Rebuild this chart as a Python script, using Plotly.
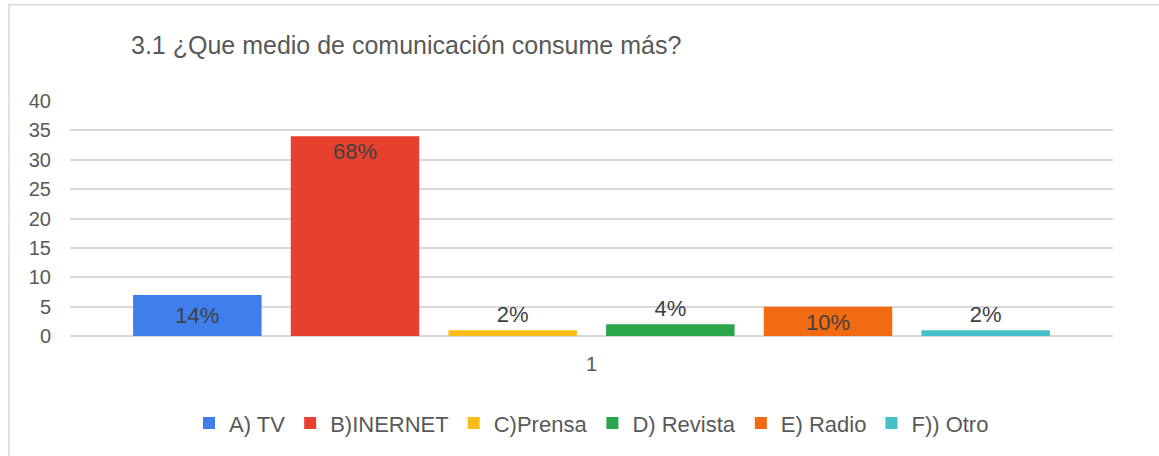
"""Survey chart — 3.1 ¿Que medio de comunicación consume más?"""

import plotly.graph_objects as go

# ── data ─────────────────────────────────────────────────────────────

categories = ["1"]
series_names = ["A) TV", "B)INERNET", "C)Prensa", "D) Revista", "E) Radio", "F)) Otro"]
series_values = [7, 34, 1, 2, 5, 1]
series_labels = ["14%", "68%", "2%", "4%", "10%", "2%"]
y_ticks = [0, 5, 10, 15, 20, 25, 30, 35, 40]

# ── style ────────────────────────────────────────────────────────────

COLORS = ["#3f7fec", "#e8402f", "#fbbd17", "#2ba64c", "#f26a12", "#45bfc9"]
TEXT_POS = ["inside", "inside", "outside", "outside", "inside", "outside"]
ANCHOR = ["middle", "end", "end", "end", "end", "end"]
FONT = "Liberation Sans, Arial, sans-serif"

# ── chart ────────────────────────────────────────────────────────────

fig = go.Figure()
for name, val, lab, col, pos, anc in zip(
    series_names, series_values, series_labels, COLORS, TEXT_POS, ANCHOR
):
    fig.add_trace(
        go.Bar(
            x=categories,
            y=[val],
            name=name,
            marker={"color": col, "line": {"width": 0}},
            text=[lab],
            textposition=pos,
            insidetextanchor=anc,
            constraintext="none",
            textfont={"size": 22, "color": "#404040", "family": FONT},
            cliponaxis=False,
        )
    )

fig.update_layout(
    width=1159,
    height=456,
    margin={"l": 70, "r": 46, "t": 101, "b": 118},
    paper_bgcolor="white",
    plot_bgcolor="white",
    barmode="group",
    bargap=0.093,
    bargroupgap=0.185,
    font={"family": FONT, "color": "#595959", "size": 20},
    title={
        "text": "3.1 ¿Que medio de comunicación consume más?",
        "x": 131 / 1159,
        "xanchor": "left",
        "xref": "container",
        "y": 1 - 45 / 456,
        "yanchor": "middle",
        "yref": "container",
        "font": {"size": 25, "color": "#595959", "family": FONT},
    },
    showlegend=True,
    legend={
        "orientation": "h",
        "x": 0.5,
        "xanchor": "center",
        "y": -(426 - 338) / 237,
        "yanchor": "middle",
        "font": {"size": 22, "color": "#595959", "family": FONT},
        "traceorder": "normal",
    },
    xaxis={
        "type": "category",
        "showgrid": False,
        "showline": False,
        "ticks": "",
        "ticklabelstandoff": 14,
        "tickfont": {"size": 20, "color": "#595959"},
    },
    yaxis={
        "range": [0, 40],
        "tickvals": y_ticks,
        "showgrid": True,
        "gridcolor": "#d9d9d9",
        "gridwidth": 1.5,
        "zeroline": True,
        "zerolinecolor": "#d9d9d9",
        "zerolinewidth": 1.5,
        "showline": False,
        "ticks": "",
        "ticklabelstandoff": 18,
        "tickfont": {"size": 20, "color": "#595959"},
    },
    shapes=[
        {
            "type": "rect",
            "xref": "paper",
            "yref": "paper",
            "x0": (9 - 70) / 1043,
            "x1": 1.2,
            "y0": -0.7,
            "y1": 1 + (101 - 4) / 237,
            "line": {"color": "#d9d9d9", "width": 1.5},
            "fillcolor": "rgba(0,0,0,0)",
            "layer": "below",
        }
    ],
)

fig.write_html(
    "out.html",
    config={"displayModeBar": False},
    post_script="document.body.style.margin = '0';",
)
